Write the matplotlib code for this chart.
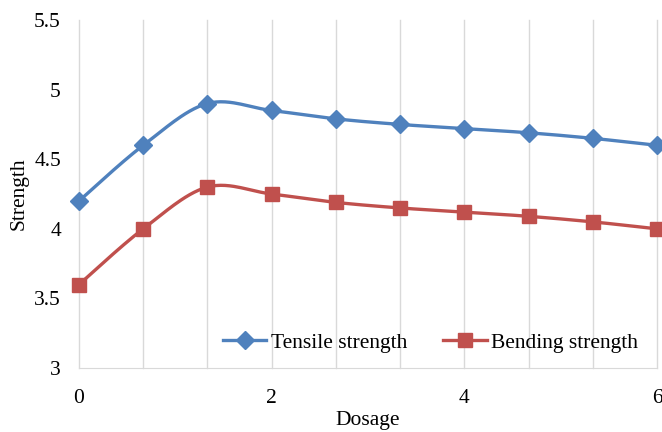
import numpy as np
import matplotlib
matplotlib.use('Agg')
import matplotlib.pyplot as plt

dosage = [0, 0.667, 1.333, 2, 2.667, 3.333, 4, 4.667, 5.333, 6]
tensile = [4.2, 4.6, 4.9, 4.85, 4.79, 4.75, 4.72, 4.69, 4.65, 4.6]
bending = [3.6, 4.0, 4.3, 4.25, 4.19, 4.15, 4.12, 4.09, 4.05, 4.0]

x_ticks = [0, 2, 4, 6]
y_ticks = [3, 3.5, 4, 4.5, 5, 5.5]


def smooth(x, y, n=30):
    # Bezier smoothing through the points, like a spreadsheet "smoothed line"
    x = np.asarray(x, float)
    y = np.asarray(y, float)
    px = np.concatenate([[x[0]], x, [x[-1]]])
    py = np.concatenate([[y[0]], y, [y[-1]]])
    xs, ys = [], []
    t = np.linspace(0, 1, n)
    for i in range(1, len(px) - 2):
        p0 = np.array([px[i], py[i]])
        p3 = np.array([px[i + 1], py[i + 1]])
        c1 = p0 + (p3 - np.array([px[i - 1], py[i - 1]])) / 6
        c2 = p3 - (np.array([px[i + 2], py[i + 2]]) - p0) / 6
        pts = ((1 - t) ** 3)[:, None] * p0 + (3 * (1 - t) ** 2 * t)[:, None] * c1 \
            + (3 * (1 - t) * t ** 2)[:, None] * c2 + (t ** 3)[:, None] * p3
        xs.extend(pts[:, 0])
        ys.extend(pts[:, 1])
    return xs, ys


plt.rcParams['font.family'] = ['Liberation Serif', 'DejaVu Serif']
fs = 15.5

fig = plt.figure(figsize=(6.62, 4.32), dpi=100)
ax = fig.add_axes([0.1193, 0.148, 0.8731, 0.8057])

blue = '#4F81BD'
red = '#C0504D'

for x in dosage:
    ax.axvline(x, color='#D9D9D9', lw=1, zorder=0)

sx, sy = smooth(dosage, tensile)
ax.plot(sx, sy, color=blue, lw=2.4, zorder=2)
ax.plot(dosage, tensile, ls='none', marker='D', ms=9.5, color=blue, zorder=3)
sx, sy = smooth(dosage, bending)
ax.plot(sx, sy, color=red, lw=2.4, zorder=2)
ax.plot(dosage, bending, ls='none', marker='s', ms=10.5, color=red, zorder=3)

ax.plot([], [], color=blue, lw=2.4, marker='D', ms=9.5, label='Tensile strength')
ax.plot([], [], color=red, lw=2.4, marker='s', ms=10.5, label='Bending strength')

ax.set_xlim(0, 6)
ax.set_ylim(3, 5.5)
ax.set_xticks(x_ticks)
ax.set_yticks(y_ticks)
ax.set_yticklabels(['3', '3.5', '4', '4.5', '5', '5.5'])
ax.tick_params(length=0, labelsize=fs)
ax.tick_params(axis='x', pad=15)
ax.tick_params(axis='y', pad=13)
for s in ['top', 'right', 'left']:
    ax.spines[s].set_visible(False)
ax.spines['bottom'].set_color('#D9D9D9')
for line in ax.lines:
    line.set_clip_on(False)

ax.set_xlabel('Dosage', fontsize=fs, labelpad=2)
ax.set_ylabel('Strength', fontsize=fs, labelpad=4)

ax.legend(loc='lower right', ncol=2, frameon=False, fontsize=fs,
          bbox_to_anchor=(0.993, 0.0), handlelength=2.0, columnspacing=1.7,
          handletextpad=0.2, borderaxespad=0.3)

fig.savefig('out.png', dpi=100)
